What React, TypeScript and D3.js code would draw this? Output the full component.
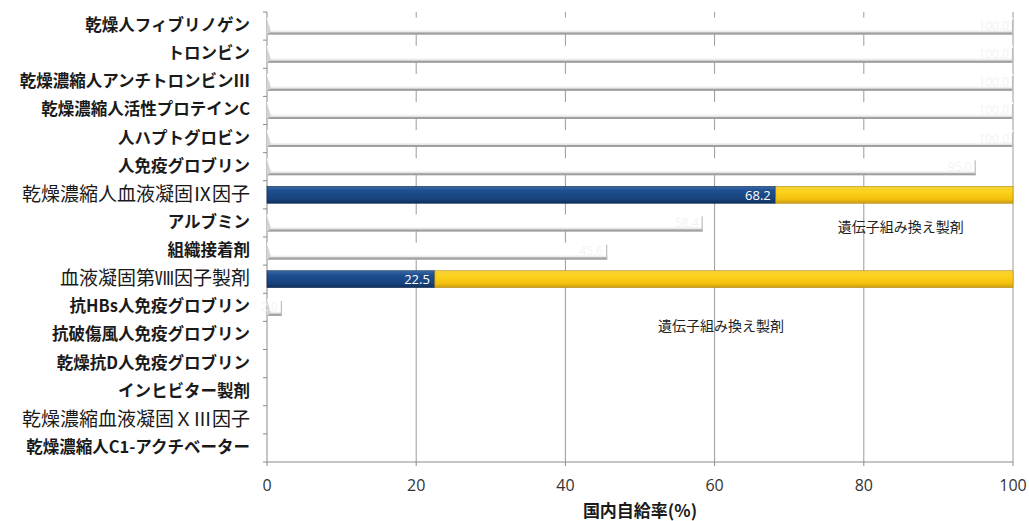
import React, { useEffect, useRef } from "react";
import * as d3 from "d3";

// Product categories, top to bottom
const categories = [
  "乾燥人フィブリノゲン",
  "トロンビン",
  "乾燥濃縮人アンチトロンビンⅢ",
  "乾燥濃縮人活性プロテインC",
  "人ハプトグロビン",
  "人免疫グロブリン",
  "乾燥濃縮人血液凝固Ⅸ因子",
  "アルブミン",
  "組織接着剤",
  "血液凝固第Ⅷ因子製剤",
  "抗HBs人免疫グロブリン",
  "抗破傷風人免疫グロブリン",
  "乾燥抗D人免疫グロブリン",
  "インヒビター製剤",
  "乾燥濃縮血液凝固ＸⅢ因子",
  "乾燥濃縮人C1-アクチベーター",
];

// Labels set in the lighter (non-bold) face
const plainLabels = ["乾燥濃縮人血液凝固Ⅸ因子", "血液凝固第Ⅷ因子製剤", "乾燥濃縮血液凝固ＸⅢ因子"];

// Domestic self-sufficiency rate (%) for plain bars
const selfSufficiency: (number | null)[] = [
  100, 100, 100, 100, 100, 95.0, null, 58.4, 45.6, null, 2.0, null, null, null, null, null,
];

// Products split into domestic share and recombinant share
const splitCategories = ["乾燥濃縮人血液凝固Ⅸ因子", "血液凝固第Ⅷ因子製剤"];
const domesticShare = [68.2, 22.5];
const recombinantShare = [31.8, 77.5];
const recombinantNote = "遺伝子組み換え製剤";

const xTicks = [0, 20, 40, 60, 80, 100];
const xTitle = "国内自給率(%)";

export default function App() {
  const ref = useRef<SVGSVGElement>(null);

  useEffect(() => {
    const svg = d3.select(ref.current);
    svg.selectAll("*").remove();

    const left = 267, right = 1013, top = 12, bottom = 462;
    const x = d3.scaleLinear().domain([0, 100]).range([left, right]);
    const y = d3.scaleBand<string>().domain(categories).range([top, bottom]).paddingInner(0.4).paddingOuter(0.2);
    const yOuter = d3.scaleBand<string>().domain(categories).range([top, bottom]);

    const defs = svg.append("defs");
    const grad = (id: string, stops: [number, string][]) => {
      const g = defs.append("linearGradient").attr("id", id).attr("x1", 0).attr("y1", 0).attr("x2", 0).attr("y2", 1);
      stops.forEach(([o, c]) => g.append("stop").attr("offset", o).attr("stop-color", c));
    };
    grad("gBlue", [[0, "#3a6aa8"], [0.25, "#1f4f8f"], [0.75, "#17427c"], [1, "#0f2f5c"]]);
    grad("gYellow", [[0, "#f2d23c"], [0.3, "#fcd21c"], [0.75, "#f3c10f"], [1, "#c99a12"]]);
    grad("gGray", [[0, "#ffffff"], [0.72, "#ffffff"], [0.86, "#e4e4e4"], [1, "#a8a8a8"]]);

    // Gridlines
    svg.append("g")
      .selectAll("line")
      .data(xTicks.slice(1))
      .join("line")
      .attr("x1", (d) => x(d)).attr("x2", (d) => x(d))
      .attr("y1", top).attr("y2", bottom)
      .attr("stroke", "#9a9a9a").attr("stroke-width", 1);

    // Axis lines
    svg.append("line").attr("x1", left).attr("x2", left).attr("y1", top).attr("y2", bottom).attr("stroke", "#8a8a8a");
    svg.append("line").attr("x1", left - 4).attr("x2", right).attr("y1", bottom).attr("y2", bottom).attr("stroke", "#8a8a8a");
    // Category ticks
    svg.append("g")
      .selectAll("line")
      .data(categories)
      .join("line")
      .attr("x1", left - 4).attr("x2", left)
      .attr("y1", (d) => yOuter(d)!).attr("y2", (d) => yOuter(d)!)
      .attr("stroke", "#8a8a8a");
    // X ticks
    svg.append("g")
      .selectAll("line")
      .data(xTicks)
      .join("line")
      .attr("x1", (d) => x(d)).attr("x2", (d) => x(d))
      .attr("y1", bottom).attr("y2", bottom + 4)
      .attr("stroke", "#8a8a8a");

    // Plain (light) bars
    const plain = categories.map((c, i) => ({ c, v: selfSufficiency[i] })).filter((d) => d.v !== null) as { c: string; v: number }[];
    const pg = svg.append("g");
    plain.forEach((d) => {
      const y0 = y(d.c)!, h = y.bandwidth();
      pg.append("rect").attr("x", x(0)).attr("y", y0).attr("width", x(d.v) - x(0)).attr("height", h).attr("fill", "url(#gGray)");
      pg.append("line").attr("x1", x(0)).attr("x2", x(d.v)).attr("y1", y0 + h - 1).attr("y2", y0 + h - 1).attr("stroke", "#a0a0a0").attr("stroke-width", 2);
      pg.append("line").attr("x1", x(d.v) - 0.5).attr("x2", x(d.v) - 0.5).attr("y1", y0 + 2).attr("y2", y0 + h).attr("stroke", "#bdbdbd").attr("stroke-width", 1.2);
      pg.append("path").attr("d", `M${x(0)},${y0 + 1}L${x(0) + 4},${y0 + h - 3}L${x(0)},${y0 + h}Z`).attr("fill", "#d4d4d4");
      pg.append("text").attr("x", x(d.v) - 4).attr("y", y0 + h / 2 + 4).attr("text-anchor", "end")
        .attr("font-family", "'Open Sans', sans-serif").attr("font-size", 12).attr("fill", "#f3f3f3")
        .text(d.v.toFixed(1));
    });

    // Split bars: domestic + recombinant
    const sg = svg.append("g");
    splitCategories.forEach((c, i) => {
      const y0 = y(c)!, h = y.bandwidth();
      const d0 = domesticShare[i], r0 = recombinantShare[i];
      sg.append("rect").attr("x", x(0)).attr("y", y0).attr("width", x(d0) - x(0)).attr("height", h)
        .attr("fill", "url(#gBlue)").attr("stroke", "#0d2a52").attr("stroke-width", 0.6);
      sg.append("rect").attr("x", x(d0)).attr("y", y0).attr("width", x(d0 + r0) - x(d0)).attr("height", h)
        .attr("fill", "url(#gYellow)").attr("stroke", "#b88a10").attr("stroke-width", 0.6);
      sg.append("text").attr("x", x(d0) - 5).attr("y", y0 + h / 2 + 5).attr("text-anchor", "end")
        .attr("font-family", "'Open Sans', sans-serif").attr("font-size", 13).attr("fill", "#ffffff")
        .text(d0.toFixed(1));
    });

    // Recombinant notes, one under each split bar
    const notes = [
      { row: "アルブミン", at: 76.5, dy: 9 },
      { row: "抗破傷風人免疫グロブリン", at: 52.4, dy: -4 },
    ];
    notes.forEach((n) => {
      const yc = yOuter(n.row)! + yOuter.bandwidth() / 2 + n.dy;
      svg.append("text").attr("x", x(n.at)).attr("y", yc)
        .attr("font-family", "'Noto Sans CJK JP', sans-serif").attr("font-size", 14).attr("fill", "#222")
        .text(recombinantNote);
    });

    // Category labels
    svg.append("g")
      .selectAll("text")
      .data(categories)
      .join("text")
      .attr("x", 250)
      .attr("y", (d) => yOuter(d)! + yOuter.bandwidth() / 2 + (plainLabels.includes(d) ? 6 : 5))
      .attr("text-anchor", "end")
      .attr("font-family", "'Noto Sans CJK JP', sans-serif")
      .attr("font-size", (d) => (plainLabels.includes(d) ? 19 : 16.5))
      .attr("font-weight", (d) => (plainLabels.includes(d) ? 400 : 700))
      .attr("fill", "#1a1a1a")
      .text((d) => d);

    // X tick labels
    svg.append("g")
      .selectAll("text")
      .data(xTicks)
      .join("text")
      .attr("x", (d) => x(d)).attr("y", bottom + 29)
      .attr("text-anchor", "middle")
      .attr("font-family", "'Open Sans', sans-serif").attr("font-size", 16).attr("fill", "#333")
      .text((d) => d);

    // X axis title
    svg.append("text").attr("x", (left + right) / 2).attr("y", 517).attr("text-anchor", "middle")
      .attr("font-family", "'Noto Sans CJK JP', sans-serif").attr("font-size", 17).attr("font-weight", 700).attr("fill", "#1a1a1a")
      .text(xTitle);
  }, []);

  return (
    <svg ref={ref} width={1029} height={521} style={{ position: "absolute", left: 0, top: 0, background: "#fff" }} />
  );
}
